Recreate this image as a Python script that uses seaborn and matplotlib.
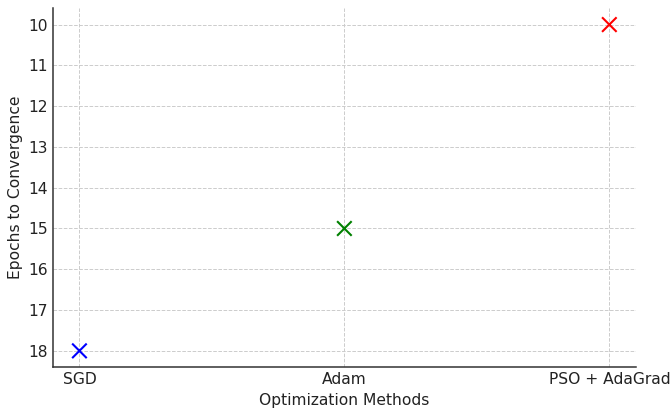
import matplotlib
matplotlib.use("Agg")
import matplotlib.pyplot as plt
import seaborn as sns
import pandas as pd

methods = ["SGD", "Adam", "PSO + AdaGrad"]
epochs = [18, 15, 10]
colors = ["blue", "green", "red"]

df = pd.DataFrame({"method": methods, "epochs": epochs})

sns.set_style("white")
plt.rcParams['font.family'] = ['DejaVu Sans']
fig, ax = plt.subplots(figsize=(6.7, 4.13), dpi=100)
sns.scatterplot(data=df, x="method", y="epochs", hue="method", palette=colors,
                marker="x", s=110, linewidth=1.5, legend=False, ax=ax)
ax.invert_yaxis()
ax.set_xlabel("Optimization Methods", fontsize=11.2, color="#222222")
ax.set_ylabel("Epochs to Convergence", fontsize=11.2, color="#222222")
ax.grid(True, linestyle="--", color="#cccccc", linewidth=0.7)
ax.set_axisbelow(True)
ax.set_xlim(-0.1, 2.1)
sns.despine(ax=ax)
for s in ["left", "bottom"]:
    ax.spines[s].set_color("#333333")
    ax.spines[s].set_linewidth(1.1)
ax.tick_params(direction="in", labelsize=11.2, colors="#333333", labelcolor="#222222")
fig.subplots_adjust(left=0.079, right=0.949, top=0.98, bottom=0.111)
fig.savefig("out.png", dpi=100)
